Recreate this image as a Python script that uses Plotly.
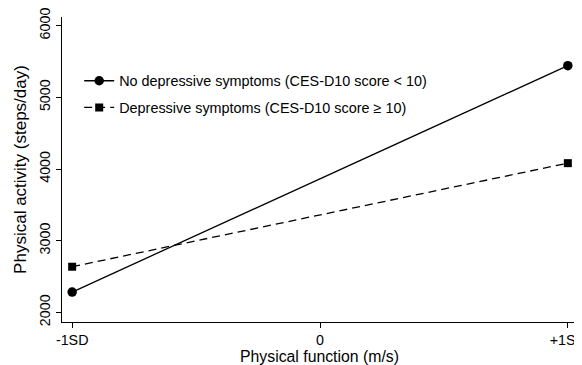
import plotly.graph_objects as go

x_vals = [-1, 1]
x_tick_vals = [-1, 0, 1]
x_tick_text = ["-1SD", "0", "+1SD"]
y_tick_vals = [2000, 3000, 4000, 5000, 6000]

no_dep = [2284, 5442]
dep = [2637, 4082]

fig = go.Figure()
fig.add_trace(go.Scatter(
    x=x_vals, y=no_dep, mode="lines+markers",
    name="No depressive symptoms (CES-D10 score < 10)",
    legendgroup="a",
    line=dict(color="black", width=1.3, dash="solid"),
    marker=dict(symbol="circle", size=9.5, color="black"),
))
fig.add_trace(go.Scatter(
    x=x_vals, y=dep, mode="lines+markers",
    name="Depressive symptoms (CES-D10 score ≥ 10)",
    legendgroup="b",
    line=dict(color="black", width=1.3, dash="8px,5px"),
    marker=dict(symbol="square", size=8, color="black"),
))

# page body has an 8px default margin, so the figure is sized to fill the rest
fig.update_layout(
    width=574, height=357,
    margin=dict(l=54.3, r=5.3, t=9, b=42.7),
    paper_bgcolor="white", plot_bgcolor="white",
    font=dict(family="Liberation Sans, Arial, sans-serif", size=14.3, color="black"),
    showlegend=True,
    legend=dict(x=0.0334, y=0.843, xanchor="left", yanchor="top",
                bgcolor="rgba(0,0,0,0)", font=dict(size=14.4),
                traceorder="grouped", tracegroupgap=5, itemwidth=30),
    xaxis=dict(range=[-1.041, 1.037], tickvals=x_tick_vals, ticktext=x_tick_text,
               showline=True, linecolor="black", linewidth=1, ticks="outside",
               ticklen=5, tickcolor="black", showgrid=False, zeroline=False,
               automargin=False, ticklabeloverflow="allow",
               title=dict(text="Physical function (m/s)", standoff=4, font=dict(size=15.8))),
    yaxis=dict(range=[1866, 6121], tickvals=y_tick_vals, tickangle=-90,
               showline=True, linecolor="black", linewidth=1, ticks="outside",
               ticklen=5, tickcolor="black", showgrid=False, zeroline=False,
               automargin=False, ticklabeloverflow="allow",
               title=dict(text="Physical activity (steps/day)", standoff=6)),
)

fig.write_html("out.html")
